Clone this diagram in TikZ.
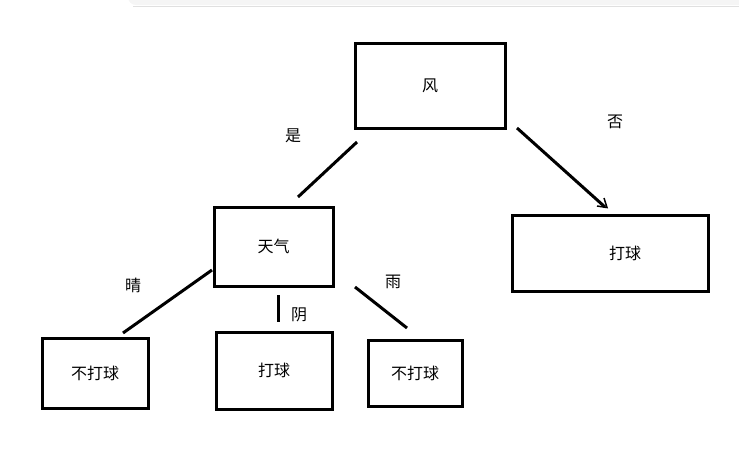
\documentclass[tikz,border=0pt]{standalone}
\usepackage{fontspec}
\newfontfamily\cjk{Noto Sans CJK SC}
\usetikzlibrary{arrows.meta}
\begin{document}
\begin{tikzpicture}[x=1pt,y=-1pt,
  box/.style={draw,line width=3pt,minimum width=#1,inner sep=0pt,font=\cjk\fontsize{16}{16}\selectfont},
  lbl/.style={font=\cjk\fontsize{16}{16}\selectfont},
  conn/.style={line width=3pt}]
\useasboundingbox (0,0) rectangle (739,451);
\fill[black!4,rounded corners=8pt,drop shadow/.style={}] (128,-20) rectangle (760,5);
\draw[black!12,line width=1pt] (133,6) -- (739,6);
\node[box=150pt,minimum height=85pt] (feng) at (430,85.5) {风};
\node[box=119pt,minimum height=79pt] (tq) at (273.5,246.5) {天气};
\node[box=196pt,minimum height=76pt] (r) at (610,253) {\hspace*{30pt}打球};
\node[box=106pt,minimum height=70pt] (a) at (95,373) {不打球};
\node[box=116pt,minimum height=77pt] (b) at (274,370.5) {打球};
\node[box=94pt,minimum height=66pt] (c) at (415,373) {不打球};
\coordinate (f1) at (357,142); \coordinate (t1) at (298,197);
\coordinate (f2) at (517,128); \coordinate (r1) at (605,207);
\coordinate (t2) at (212,270); \coordinate (a1) at (123,333);
\coordinate (t3) at (278,295); \coordinate (b1) at (278,322);
\coordinate (t4) at (355,287); \coordinate (c1) at (407,328);
\draw[conn] (f1) -- (t1);
\draw[conn] (f2) -- (r1);
\draw[line width=1.5pt] (597,206) -- (607,207.5) -- (604,198);
\draw[conn] (t2) -- (a1);
\draw[conn] (t3) -- (b1);
\draw[conn] (t4) -- (c1);
\node[lbl] (l1) at (293,136) {是};
\node[lbl] (l2) at (615,122) {否};
\node[lbl] (l3) at (133,285) {晴};
\node[lbl] (l4) at (299,315) {阴};
\node[lbl] (l5) at (393,282) {雨};
\end{tikzpicture}
\end{document}
